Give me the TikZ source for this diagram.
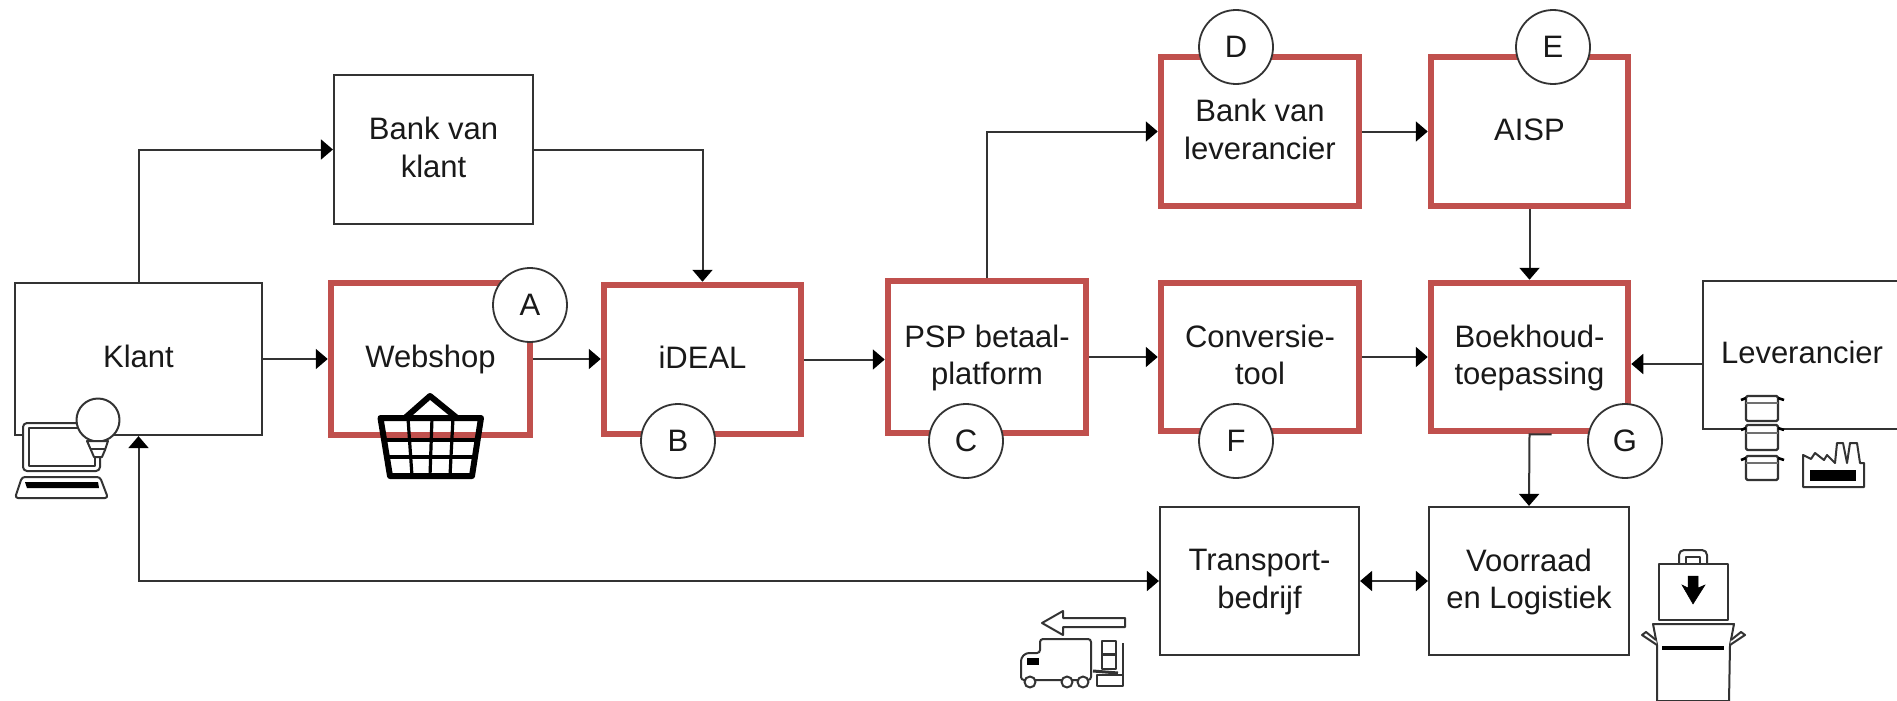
\documentclass[tikz,border=0pt]{standalone}
\usepackage{fontspec}
\setmainfont{Liberation Sans}
\usetikzlibrary{arrows.meta}
\definecolor{redline}{HTML}{C0504D}
\definecolor{inkline}{HTML}{333333}
\tikzset{
  boxbase/.style={rectangle,fill=white,inner sep=0pt,align=center,font=\fontsize{31}{37.5}\selectfont,text=black!90,text depth=4.5pt},
  plainbox/.style={boxbase,draw=inkline,line width=2.2pt},
  redbox/.style={boxbase,draw=redline,line width=6.5pt},
  letter/.style={circle,draw=inkline,fill=white,line width=1.8pt,minimum size=74pt,inner sep=0pt,font=\fontsize{31}{37.5}\selectfont,text=black!90},
  conn/.style={draw=inkline,line width=2pt,-{Triangle[length=12pt,width=20pt,color=black]},line join=miter},
  biconn/.style={draw=inkline,line width=2pt,{Triangle[length=12pt,width=20pt,color=black]}-{Triangle[length=12pt,width=20pt,color=black]}},
  icon/.style={draw=inkline,line width=2pt,fill=white,line join=round},
  solid black/.style={fill=black,draw=black,line width=.5pt},
  basketline/.style={draw=black,line width=3.2pt},
}
\begin{document}
\begin{tikzpicture}[x=1pt,y=-1pt]
\useasboundingbox (0,0) rectangle (1897,701);
% nodes
\node[plainbox,minimum width=247pt,minimum height=152pt] (klant) at (138.5,359) {Klant};
\node[plainbox,minimum width=199pt,minimum height=149pt] (bankk) at (433.5,149.5) {Bank van\\klant};
\node[redbox,minimum width=199pt,minimum height=152pt] (webshop) at (430.5,359) {Webshop};
\node[redbox,minimum width=197pt,minimum height=149pt] (ideal) at (702.5,359.5) {iDEAL};
\node[redbox,minimum width=198pt,minimum height=152pt] (psp) at (987,357) {PSP betaal-\\platform};
\node[redbox,minimum width=198pt,minimum height=149pt] (bankl) at (1260,131.5) {Bank van\\leverancier};
\node[redbox,minimum width=197pt,minimum height=149pt] (aisp) at (1529.5,131.5) {AISP};
\node[redbox,minimum width=198pt,minimum height=148pt] (conv) at (1260,357) {Conversie-\\tool};
\node[redbox,minimum width=197pt,minimum height=148pt] (boek) at (1529.5,357) {Boekhoud-\\toepassing};
\node[plainbox,minimum width=198pt,minimum height=148pt] (lev) at (1802,355) {Leverancier};
\node[plainbox,minimum width=199pt,minimum height=148pt] (trans) at (1259.5,581) {Transport-\\bedrijf};
\node[plainbox,minimum width=200pt,minimum height=148pt] (voor) at (1529,581) {Voorraad\\en Logistiek};
% connectors
\draw[conn] (klant.north) |- (bankk.west);
\draw[conn] (bankk.east) -| (ideal.north);
\draw[conn] (klant.east) -- (webshop.west);
\draw[conn] (webshop.east) -- (webshop.east -| ideal.west);
\draw[conn] (ideal.east) -- (ideal.east -| psp.west);
\draw[conn] (psp.north) |- (bankl.west);
\draw[conn] (bankl.east) -- (aisp.west);
\draw[conn] (aisp.south) -- (boek.north);
\draw[conn] (psp.east) -- (conv.west);
\draw[conn] (conv.east) -- (boek.west);
\draw[conn] ([yshift=-9pt]lev.west) -- ([yshift=-7pt]boek.east);
\draw[conn] ([xshift=22pt]boek.south) -- (boek.south) -- (voor.north);
\draw[biconn] (trans.east) -- (voor.west);
\draw[biconn] (trans.west) -| (klant.south);
% letters
\node[letter] (A) at (530,305) {A};
\node[letter] (B) at (678,441) {B};
\node[letter] (C) at (966,441) {C};
\node[letter] (D) at (1236,47) {D};
\node[letter] (E) at (1553,47) {E};
\node[letter] (F) at (1236,441) {F};
\node[letter] (G) at (1625,441) {G};
% laptop and bulb
\draw[icon,rounded corners=4pt] (23,471) -- (23,423) -- (100,423) -- (100,471) -- cycle;
\draw[icon] (29,428) rectangle (95,466);
\draw[icon,rounded corners=3pt] (15,498) -- (22,477) -- (100,477) -- (108,498) -- cycle;
\fill[black] (25,482) -- (98,482) -- (99,488) -- (27,488) -- cycle;
\draw[icon] (98,420) circle (21.5);
\draw[icon] (87,441) -- (108,441) -- (105,450) -- (102,457) -- (94,457) -- (91,450) -- cycle;
\draw[inkline,line width=1.5pt] (90,449) -- (105,449);
% basket
\draw[draw=black,line width=6pt,line join=round] (380.5,418) -- (481,418) -- (472,476) -- (390,476) -- cycle;
\draw[draw=black,line width=6pt,line join=round] (405,418) -- (430,396) -- (457,418);
\foreach \a/\b in {408/412,432/430,453/450}{\draw[basketline] (\a,418) -- (\b,476);}
\draw[basketline] (383,440) -- (478,440);
\draw[basketline] (385,457) -- (476,457);
% truck
\draw[icon] (1042,623) -- (1063,611) -- (1063,618) -- (1125,618) -- (1125,627) -- (1063,627) -- (1063,635) -- cycle;
\draw[icon,rounded corners=3pt] (1040,653) -- (1040,639) -- (1091,639) -- (1091,680) -- (1021,680) -- (1021,658) -- (1026,653) -- cycle;
\fill[black] (1027,658) rectangle (1039,665);
\foreach \p in {1030,1067,1083}{\draw[icon] (\p,682) circle (5.5);}
\draw[icon] (1102,641) rectangle (1116,669);
\draw[inkline,line width=3pt] (1102,654) -- (1116,654);
\draw[icon,fill=none] (1123,643) -- (1123,686) -- (1097,686) -- (1097,675) -- (1123,675);
\draw[inkline,line width=3pt] (1093,671) -- (1118,673);
% buckets
\foreach \t/\m/\r/\b in {396/403/400/421,425/433/430/450,456/463/460/480}{
  \draw[icon,line width=2.2pt,rounded corners=1.5pt] (1746,\t) rectangle (1778,\b);
  \draw[inkline!70,line width=1.5pt] (1746,\m) -- (1778,\m);
  \draw[black,line width=2.6pt] (1741,\r) -- (1746,\r-2) (1778,\r-2) -- (1784,\r);
}
% factory
\draw[icon] (1803,455) -- (1803,487) -- (1864,487) -- (1864,463) -- (1860,463) -- (1857,443) -- (1850,443) -- (1847,463) -- (1843,443) -- (1837,443) -- (1835,463) -- (1827,455) -- (1824,460) -- (1815,453) -- (1811,459) -- cycle;
\fill[black] (1810,470) rectangle (1856,481);
% bag
\draw[icon,rounded corners=5pt] (1679,566) -- (1679,550) -- (1707,550) -- (1707,566);
\draw[icon] (1659,564) rectangle (1728,620);
\draw[icon] (1686,557) rectangle (1700,564);
\draw[solid black] (1688,576) -- (1698,576) -- (1698,588) -- (1705,585) -- (1693,604) -- (1682,585) -- (1688,588) -- cycle;
% open box
\draw[icon] (1653,624) -- (1734,624) -- (1730,645) -- (1729,701) -- (1657,701) -- (1657,645) -- cycle;
\draw[icon] (1657,645) -- (1642,635) -- (1646,632) -- (1656,640);
\draw[icon] (1730,645) -- (1745,635) -- (1741,632) -- (1731,640);
\draw[black,line width=3.5pt] (1662,648) -- (1724,648);
\end{tikzpicture}
\end{document}
